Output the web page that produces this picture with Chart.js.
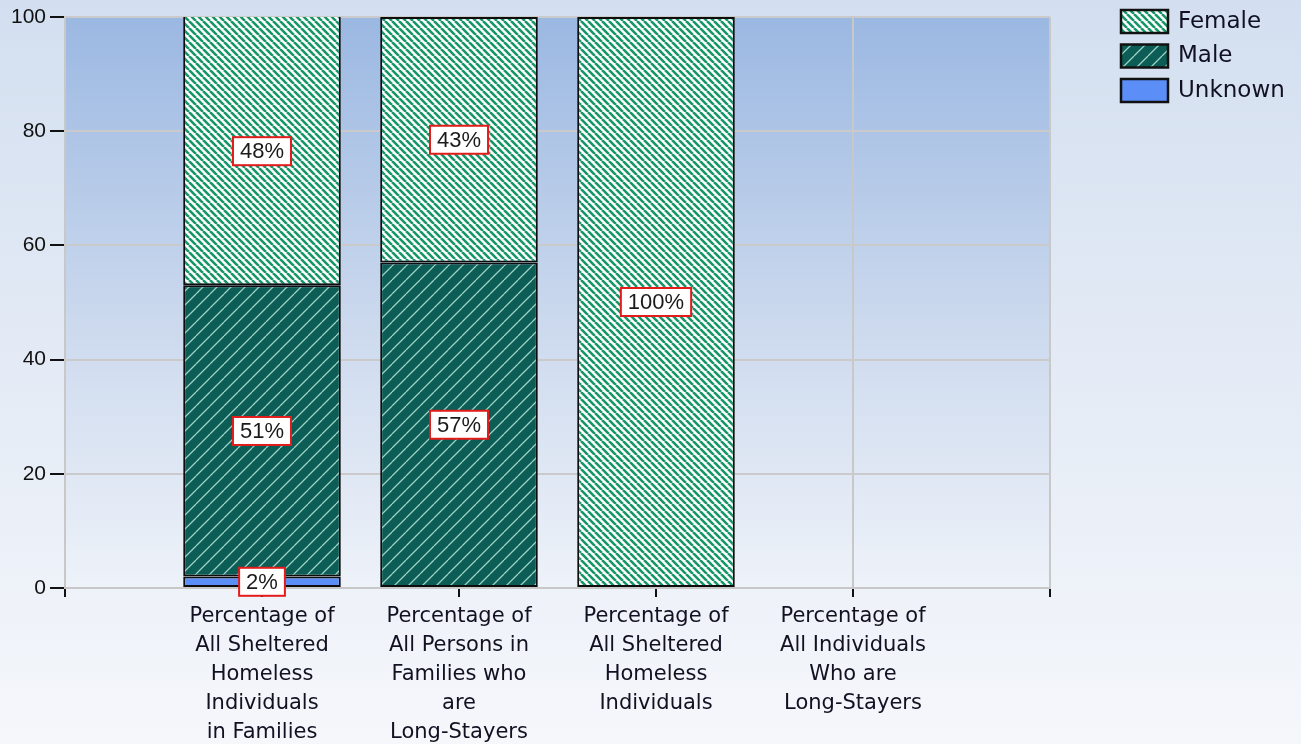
<!DOCTYPE html>
<html>
<head>
<meta charset="utf-8">
<title>Gender breakdown</title>
<script src="https://cdn.jsdelivr.net/npm/chart.js@4.4.0/dist/chart.umd.min.js"></script>
<style>
  html, body { margin: 0; padding: 0; background: #f4f6fb; overflow: hidden; }
</style>
</head>
<body>
<canvas id="chart" width="1301" height="744"></canvas>
<script>
// category labels, one array of lines per bar
const categories = [
  ['Percentage of', 'All Sheltered', 'Homeless', 'Individuals', 'in Families'],
  ['Percentage of', 'All Persons in', 'Families who', 'are', 'Long-Stayers'],
  ['Percentage of', 'All Sheltered', 'Homeless', 'Individuals'],
  ['Percentage of', 'All Individuals', 'Who are', 'Long-Stayers']
];
const female = [48, 43, 100, 0];
const male = [51, 57, 0, 0];
const unknown = [2, 0, 0, 0];
const yTicks = [0, 20, 40, 60, 80, 100];

const canvas = document.getElementById('chart');
const ctx = canvas.getContext('2d');

function hatch(bg, fg, size, width, slash) {
  const tile = document.createElement('canvas');
  tile.width = tile.height = size;
  const g = tile.getContext('2d');
  g.fillStyle = bg;
  g.fillRect(0, 0, size, size);
  g.strokeStyle = fg;
  g.lineWidth = width;
  g.beginPath();
  for (const o of [-size, 0, size]) {
    if (slash) { g.moveTo(o, size); g.lineTo(o + size, 0); }
    else { g.moveTo(o, 0); g.lineTo(o + size, size); }
  }
  g.stroke();
  return ctx.createPattern(tile, 'repeat');
}

const femaleFill = hatch('#ffffff', '#169669', 7, 2.6, false);
const maleFill = hatch('#0b5d55', '#9fd2c6', 14, 1.3, true);
const unknownFill = '#5b8ff7';

// empty slot at each end of the axis so the bars sit on 1..4
const pad = arr => [null, ...arr.map(v => (v > 0 ? v : null)), null];
const labels = [[''], ...categories, ['']];

const bgPlugin = {
  id: 'bg',
  beforeDraw(chart) {
    const c = chart.ctx, a = chart.chartArea;
    let g = c.createLinearGradient(0, 0, 0, chart.height);
    g.addColorStop(0, '#d3dff0');
    g.addColorStop(1, '#f5f7fb');
    c.save();
    c.fillStyle = g;
    c.fillRect(0, 0, chart.width, chart.height);
    g = c.createLinearGradient(0, a.top, 0, a.bottom);
    g.addColorStop(0, '#9bb8e2');
    g.addColorStop(0.55, '#cddaee');
    g.addColorStop(1, '#eef2f9');
    c.fillStyle = g;
    c.fillRect(a.left, a.top, a.right - a.left, a.bottom - a.top);
    c.restore();
  }
};

const valueLabels = {
  id: 'valueLabels',
  afterDatasetsDraw(chart) {
    const c = chart.ctx, a = chart.chartArea;
    c.save();
    c.font = '22px "Liberation Sans", Arial, sans-serif';
    c.textAlign = 'center';
    c.textBaseline = 'middle';
    chart.data.datasets.forEach((ds, i) => {
      chart.getDatasetMeta(i).data.forEach((el, j) => {
        const v = ds.data[j];
        if (v == null) return;
        const top = Math.max(el.y, a.top);
        const y = (top + el.base) / 2;
        const text = v + '%';
        const w = c.measureText(text).width + 14;
        const h = 28;
        c.fillStyle = '#ffffff';
        c.fillRect(el.x - w / 2, y - h / 2, w, h);
        c.strokeStyle = '#e31b1b';
        c.lineWidth = 2;
        c.strokeRect(el.x - w / 2, y - h / 2, w, h);
        c.fillStyle = '#1a1a1a';
        c.fillText(text, el.x, y + 1);
      });
    });
    c.restore();
  }
};

const sideLegend = {
  id: 'sideLegend',
  afterDraw(chart) {
    const c = chart.ctx;
    const items = chart.data.datasets.slice().reverse();
    c.save();
    c.font = '23px "DejaVu Sans", Verdana, sans-serif';
    c.textBaseline = 'middle';
    items.forEach((ds, i) => {
      const y = 10 + i * 34.5;
      c.fillStyle = ds.backgroundColor;
      c.fillRect(1121, y, 47, 23);
      c.strokeStyle = '#111111';
      c.lineWidth = 2.5;
      c.strokeRect(1121, y, 47, 23);
      c.fillStyle = '#111122';
      c.fillText(ds.label, 1178, y + 12);
    });
    c.restore();
  }
};

const barStyle = {
  borderColor: '#0d0d0d',
  borderWidth: 2,
  borderSkipped: false,
  categoryPercentage: 1,
  barPercentage: 0.8,
  clip: 0
};

new Chart(ctx, {
  type: 'bar',
  data: {
    labels: labels,
    datasets: [
      { label: 'Unknown', data: pad(unknown), backgroundColor: unknownFill, ...barStyle },
      { label: 'Male', data: pad(male), backgroundColor: maleFill, ...barStyle },
      { label: 'Female', data: pad(female), backgroundColor: femaleFill, ...barStyle }
    ]
  },
  options: {
    responsive: false,
    animation: false,
    layout: { padding: { top: 17, right: 251, left: 0, bottom: 0 } },
    plugins: {
      legend: { display: false },
      tooltip: { enabled: false }
    },
    scales: {
      x: {
        stacked: true,
        offset: false,
        grid: { offset: false, color: '#c8c8c8', lineWidth: 2, tickColor: '#111', tickWidth: 2, tickLength: 9 },
        border: { color: '#c8c8c8', width: 2 },
        ticks: {
          autoSkip: false,
          maxRotation: 0,
          padding: 5,
          color: '#111122',
          font: { family: '"DejaVu Sans", Verdana, sans-serif', size: 21, lineHeight: 1.38 }
        },
        afterFit(scale) { scale.height = 156; }
      },
      y: {
        stacked: true,
        min: 0,
        max: 100,
        afterBuildTicks(scale) { scale.ticks = yTicks.map(v => ({ value: v })); },
        grid: { color: '#cacaca', lineWidth: 2, tickColor: '#111', tickWidth: 2, tickLength: 15 },
        border: { color: '#c8c8c8', width: 2 },
        ticks: {
          padding: 4,
          color: '#111111',
          font: { family: '"Liberation Sans", Arial, sans-serif', size: 21 }
        },
        afterFit(scale) { scale.width = 65; }
      }
    }
  },
  plugins: [bgPlugin, valueLabels, sideLegend]
});
</script>
</body>
</html>
